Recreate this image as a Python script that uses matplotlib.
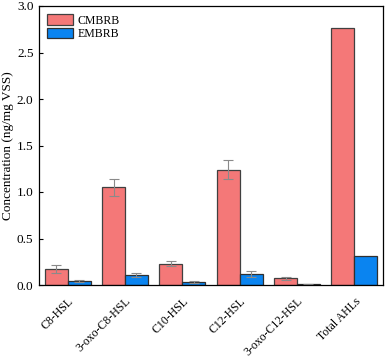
import numpy as np
import matplotlib
matplotlib.use("Agg")
import matplotlib.pyplot as plt

plt.rcParams["font.family"] = ["Liberation Serif", "DejaVu Serif"]

categories = ["C8-HSL", "3-oxo-C8-HSL", "C10-HSL", "C12-HSL", "3-oxo-C12-HSL", "Total AHLs"]
cmbrb = [0.17, 1.05, 0.23, 1.24, 0.07, 2.76]
cmbrb_err = [0.04, 0.09, 0.03, 0.10, 0.02, np.nan]
embrb = [0.04, 0.11, 0.03, 0.12, 0.01, 0.31]
embrb_err = [0.01, 0.02, 0.01, 0.03, 0.005, np.nan]

x = np.arange(len(categories))
w = 0.4

fig = plt.figure(figsize=(3.87, 3.57), dpi=100)
ax = fig.add_axes([39 / 387, 1 - 285 / 357, 344 / 387, 279 / 357])

ax.bar(x - w / 2, cmbrb, w, color="#F47878", edgecolor="#404040", linewidth=0.9, label="CMBRB")
ax.bar(x + w / 2, embrb, w, color="#0A84F0", edgecolor="#303030", linewidth=0.9, label="EMBRB")

# error bars drawn separately so the totals get none
err_kw = dict(fmt="none", ecolor="#8a8a8a", elinewidth=0.8, capsize=3.5, capthick=0.8)
ax.errorbar(x - w / 2, cmbrb, yerr=cmbrb_err, **err_kw)
ax.errorbar(x + w / 2, embrb, yerr=embrb_err, **err_kw)

ax.set_xlim(-0.5, 5.5)
ax.set_ylim(0, 3.0)
ax.set_yticks(np.arange(0, 3.01, 0.5))
ax.set_xticks(x)
ax.set_xticklabels(categories, rotation=45, ha="right", rotation_mode="anchor", fontsize=8.5)
ax.tick_params(axis="y", direction="in", labelsize=9.5, length=3, pad=4)
ax.tick_params(axis="x", length=0, pad=7.5)
ax.set_ylabel("Concentration (ng/mg VSS)", fontsize=9.5)
ax.yaxis.set_label_coords(-0.072, 0.5)
for s in ax.spines.values():
    s.set_linewidth(0.9)

ax.legend(loc="upper left", frameon=False, fontsize=8.5, handlelength=2.2,
          handleheight=1.0, labelspacing=0.1, borderaxespad=0.3, handletextpad=0.4)

fig.savefig("out.png", dpi=100)
